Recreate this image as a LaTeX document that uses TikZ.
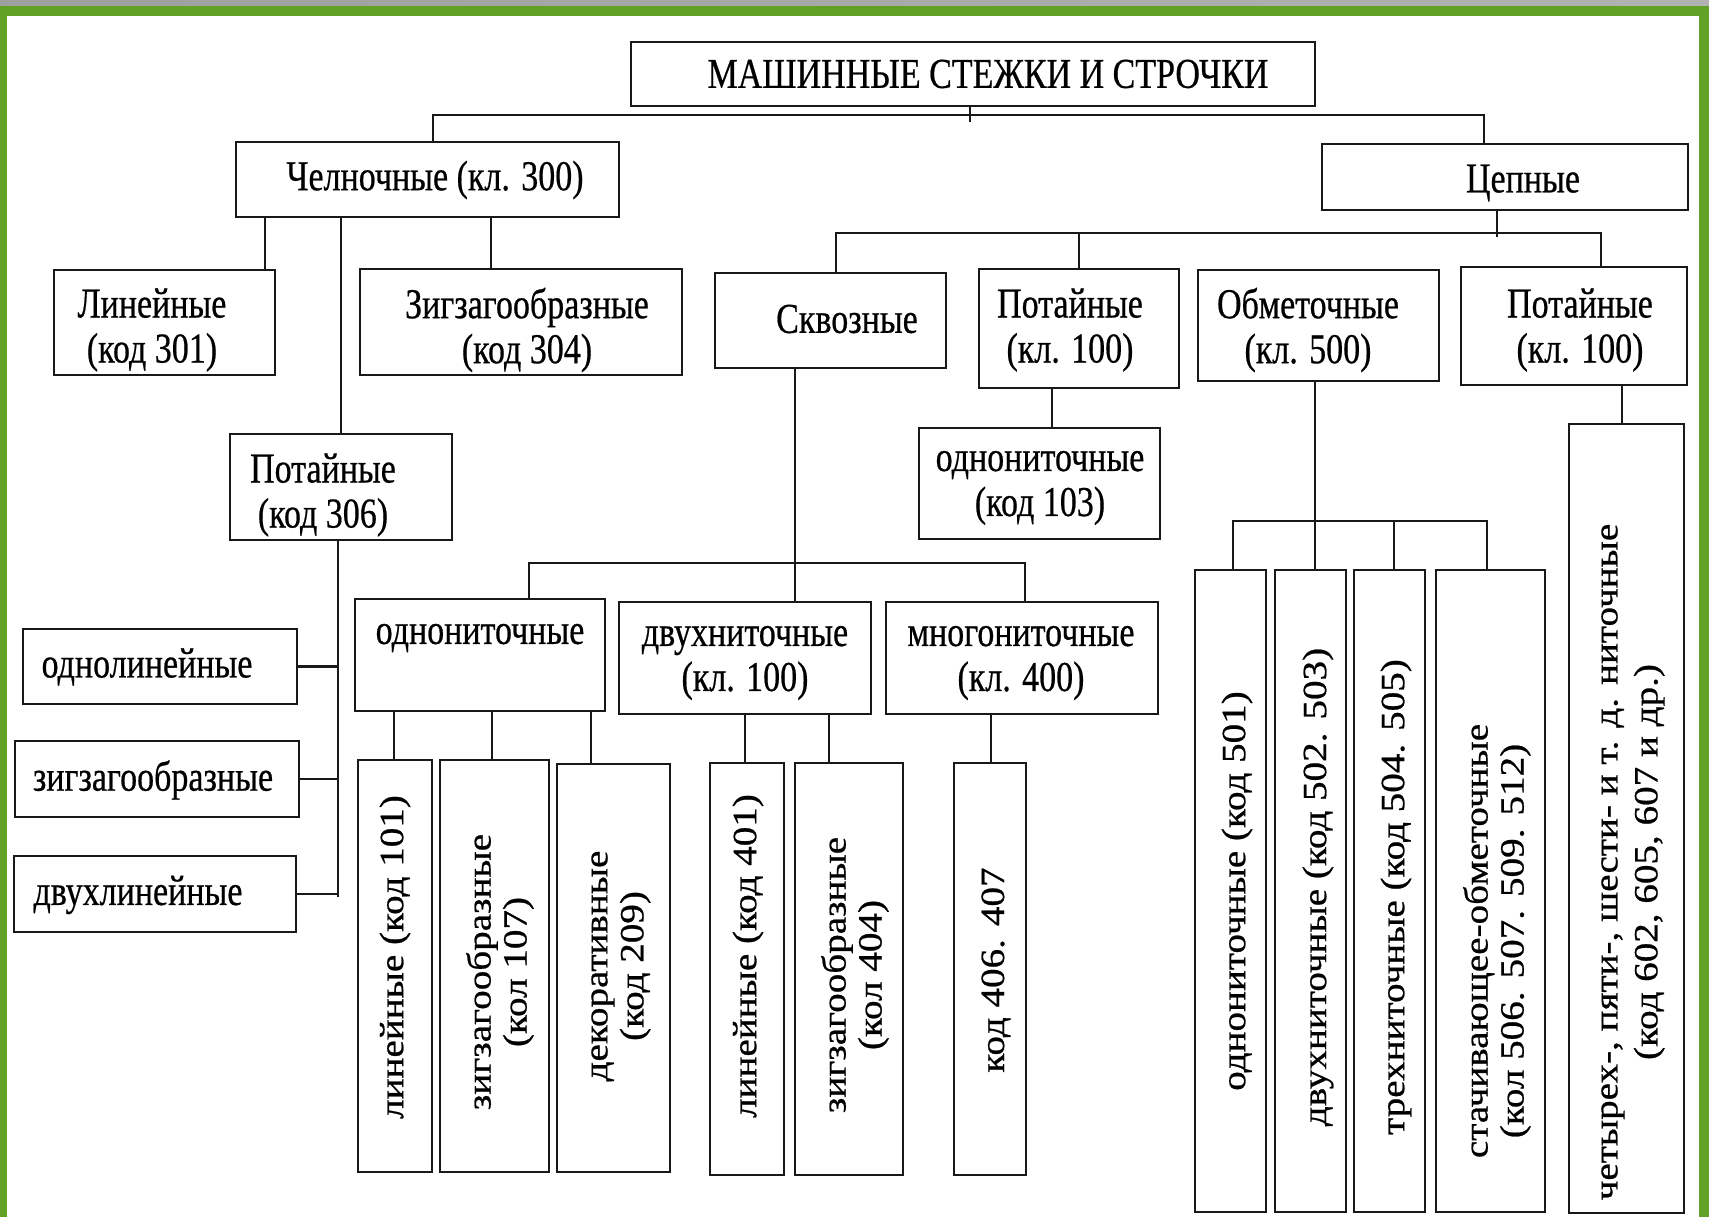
\documentclass[tikz,border=0pt]{standalone}
\usepackage{fontspec}
\setmainfont{Liberation Serif}
\newfontfamily\diagfont{Liberation Serif}[FakeBold=0.6]
\definecolor{frgreen}{RGB}{96,161,38}
\definecolor{ink}{RGB}{25,25,25}
\newcommand\tfont{\diagfont\fontsize{34}{36}\selectfont}
\newcommand\mybox[5]{\node[box, minimum width={(#4)-(#2)}, minimum height={(#5)-(#3)}] (#1) at ({((#2)+(#4))/2},{((#3)+(#5))/2}) {};}
\tikzset{
 box/.style={draw=ink, line width=2.6pt, fill=white, inner sep=0pt, outer sep=0pt, rectangle},
 conn/.style={draw=ink, line width=2.2pt},
 htxt/.style={font=\tfont, text=black, align=center, inner sep=0pt, yscale=1.25},
 vtxt/.style={font=\tfont, text=black, align=center, inner sep=0pt, rotate=90, xscale=1.15},
}
\begin{document}
\begin{tikzpicture}[x=1pt, y=-1pt]
\useasboundingbox (0,0) rectangle (1709,1217);
% frame
\fill[white] (0,0) rectangle (1709,1217);
\shade[left color=gray!75, middle color=gray!25, right color=gray!60] (0,0) rectangle (1709,6);
\fill[frgreen] (0,6) rectangle (1709,16);
\fill[frgreen] (0,6) rectangle (7,1217);
\fill[frgreen] (1699,6) rectangle (1709,1217);
% boxes
\mybox{title}{631}{42}{1315}{106}
\mybox{chel}{236}{142}{619}{217}
\mybox{cep}{1322}{144}{1688}{210}
\mybox{lin}{54}{270}{275}{375}
\mybox{zig}{360}{269}{682}{375}
\mybox{skv}{715}{273}{946}{368}
\mybox{pota}{979}{269}{1179}{388}
\mybox{obm}{1198}{270}{1439}{381}
\mybox{potb}{1461}{267}{1687}{385}
\mybox{pot306}{230}{434}{452}{540}
\mybox{odn103}{919}{428}{1160}{539}
\mybox{odnolin}{23}{629}{297}{704}
\mybox{zigl}{15}{741}{299}{817}
\mybox{dvuhlin}{14}{856}{296}{932}
\mybox{odnon}{355}{599}{605}{711}
\mybox{dvuhn}{619}{602}{871}{714}
\mybox{mnogo}{886}{602}{1158}{714}
\mybox{r101}{358}{760}{432}{1172}
\mybox{r107}{440}{760}{549}{1172}
\mybox{r209}{557}{764}{670}{1172}
\mybox{r401}{710}{763}{784}{1175}
\mybox{r404}{795}{763}{903}{1175}
\mybox{r406}{954}{763}{1026}{1175}
\mybox{r501}{1195}{570}{1266}{1212}
\mybox{r502}{1275}{570}{1346}{1212}
\mybox{r504}{1354}{570}{1425}{1212}
\mybox{r506}{1436}{570}{1545}{1212}
\mybox{r602}{1569}{424}{1684}{1213}
% texts
\node[htxt] (t-title) at (988,74) {МАШИННЫЕ СТЕЖКИ И СТРОЧКИ};
\node[htxt] (t-chel) at (435,180) {Челночные (кл. 300)};
\node[htxt] (t-cep) at (1523,183) {Цепные};
\node[htxt] (t-lin) at (152,330) {Линейные\\(код 301)};
\node[htxt] (t-zig) at (527,330) {Зигзагообразные\\(код 304)};
\node[htxt] (t-skv) at (847,319) {Сквозные};
\node[htxt] (t-pota) at (1070,330) {Потайные\\(кл. 100)};
\node[htxt] (t-obm) at (1308,330) {Обметочные\\(кл. 500)};
\node[htxt] (t-potb) at (1580,330) {Потайные\\(кл. 100)};
\node[htxt] (t-pot306) at (323,495) {Потайные\\(код 306)};
\node[htxt] (t-odn103) at (1040,488) {однониточные\\(код 103)};
\node[htxt] (t-odnolin) at (147,667) {однолинейные};
\node[htxt] (t-zigl) at (153,780) {зигзагообразные};
\node[htxt] (t-dvuhlin) at (138,895) {двухлинейные};
\node[htxt] (t-odnon) at (480,638) {однониточные};
\node[htxt] (t-dvuhn) at (745,663) {двухниточные\\(кл. 100)};
\node[htxt] (t-mnogo) at (1021,663) {многониточные\\(кл. 400)};
\node[vtxt] (t-r101) at (395,957) {линейные (код 101)};
\node[vtxt] (t-r107) at (500,972) {зигзагообразные\\(кол 107)};
\node[vtxt] (t-r209) at (621,966) {декоративные\\(код 209)};
\node[vtxt] (t-r401) at (748,956) {линейные (код 401)};
\node[vtxt] (t-r404) at (855,975) {зигзагообразные\\(кол 404)};
\node[vtxt] (t-r406) at (996,970) {код 406. 407};
\node[vtxt] (t-r501) at (1237,891) {однониточные (код 501)};
\node[vtxt] (t-r502) at (1318,887) {двухниточные (код 502. 503)};
\node[vtxt] (t-r504) at (1396,897) {трехниточные (код 504. 505)};
\node[vtxt] (t-r506) at (1497,941) {стачивающее-обметочные\\(кол 506. 507. 509. 512)};
\node[vtxt, font={\diagfont\fontsize{34}{40}\selectfont}] (t-r602) at (1633,862) {четырех-, пяти-, шести- и т. д. ниточные\\(код 602, 605, 607 и др.)};
% connector helper coordinates
\coordinate (Ytop) at (0,115);
\coordinate (Ycep) at (0,233);
\coordinate (Yskv) at (0,563);
\coordinate (Yobm) at (0,521);
\coordinate (Yend) at (0,897);
\foreach \xx in {433,1484,970,265,341,491,1497,836,1079,1601,338,795,529,1025,394,492,591,745,829,991,1052,1315,1233,1394,1487,1622}
  \coordinate (X\xx) at (\xx,0);
% connectors
\draw[conn] (title.south -| X970) -- ++(0,16);
\draw[conn] (chel.north -| X433) -- (Ytop -| X433) -- (Ytop -| X1484) -- (cep.north -| X1484);
\draw[conn] (chel.south -| X265) -- (lin.north -| X265);
\draw[conn] (chel.south -| X491) -- (zig.north -| X491);
\draw[conn] (chel.south -| X341) -- (pot306.north -| X341);
\draw[conn] (cep.south -| X1497) -- ++(0,27);
\draw[conn] (skv.north -| X836) -- (Ycep -| X836) -- (Ycep -| X1601) -- (potb.north -| X1601);
\draw[conn] (Ycep -| X1079) -- (pota.north -| X1079);
\draw[conn] (pot306.south -| X338) -- (Yend -| X338);
\draw[conn] (odnolin.east) -- (odnolin.east -| X338);
\draw[conn] (zigl.east) -- (zigl.east -| X338);
\draw[conn] (dvuhlin.east) -- (dvuhlin.east -| X338);
\draw[conn] (skv.south -| X795) -- (dvuhn.north -| X795);
\draw[conn] (odnon.north -| X529) -- (Yskv -| X529) -- (Yskv -| X1025) -- (mnogo.north -| X1025);
\draw[conn] (odnon.south -| X394) -- (r101.north -| X394);
\draw[conn] (odnon.south -| X492) -- (r107.north -| X492);
\draw[conn] (odnon.south -| X591) -- (r209.north -| X591);
\draw[conn] (dvuhn.south -| X745) -- (r401.north -| X745);
\draw[conn] (dvuhn.south -| X829) -- (r404.north -| X829);
\draw[conn] (mnogo.south -| X991) -- (r406.north -| X991);
\draw[conn] (pota.south -| X1052) -- (odn103.north -| X1052);
\draw[conn] (obm.south -| X1315) -- (r502.north -| X1315);
\draw[conn] (r501.north -| X1233) -- (Yobm -| X1233) -- (Yobm -| X1487) -- (r506.north -| X1487);
\draw[conn] (Yobm -| X1394) -- (r504.north -| X1394);
\draw[conn] (potb.south -| X1622) -- (r602.north -| X1622);
\end{tikzpicture}
\end{document}
